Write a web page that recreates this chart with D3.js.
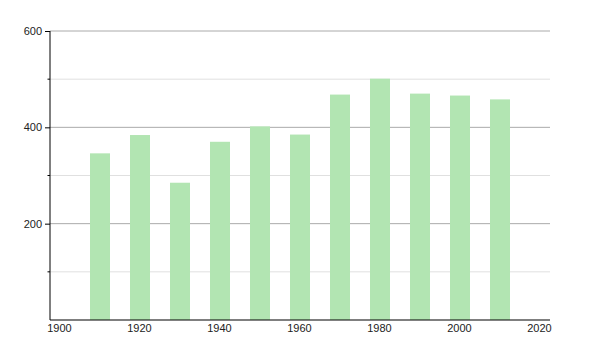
<!DOCTYPE html>
<html lang="en">
<head>
<meta charset="utf-8">
<script src="https://d3js.org/d3.v7.min.js"></script>
<style>
  body { margin: 0; background: #fff; }
  svg text { font: 11px "Liberation Sans", Arial, sans-serif; fill: #222; }
</style>
</head>
<body>
<script>
// population by census year
var years = [1910, 1920, 1930, 1940, 1950, 1960, 1970, 1980, 1990, 2000, 2010];
var values = [346, 384, 285, 370, 402, 385, 468, 501, 470, 466, 458];
var xTicks = [1900, 1920, 1940, 1960, 1980, 2000, 2020];
var yMajor = [200, 400, 600];
var yMinor = [100, 300, 500];

var width = 600, height = 350;

var svg = d3.select("body").append("svg")
  .attr("width", width)
  .attr("height", height);

var x = d3.scaleLinear().domain([1900, 2025]).range([50, 550]);
var y = d3.scaleLinear().domain([0, 600]).range([320, 31]);

// grid lines, light ones first
svg.selectAll("line.minor").data(yMinor).enter().append("line")
  .attr("x1", x(1900)).attr("x2", x(2025))
  .attr("y1", function(d) { return y(d); })
  .attr("y2", function(d) { return y(d); })
  .attr("stroke", "#e0e0e0").attr("stroke-width", 1);

svg.selectAll("line.major").data(yMajor).enter().append("line")
  .attr("x1", x(1900)).attr("x2", x(2025))
  .attr("y1", function(d) { return y(d); })
  .attr("y2", function(d) { return y(d); })
  .attr("stroke", "#aaaaaa").attr("stroke-width", 1);

// bars start at the year and span 5 years
svg.selectAll("rect").data(values).enter().append("rect")
  .attr("x", function(d, i) { return x(years[i]); })
  .attr("width", function(d, i) { return x(years[i] + 5) - x(years[i]); })
  .attr("y", function(d) { return y(d); })
  .attr("height", function(d) { return y(0) - y(d); })
  .attr("fill", "#b2e5b2");

// y axis
var yAxis = d3.axisLeft(y).tickValues(yMajor).tickSize(5).tickPadding(3);
var gy = svg.append("g").attr("transform", "translate(" + x(1900) + ",0)").call(yAxis);
gy.select(".domain").attr("stroke", "#000").attr("d", "M0," + y(600) + "V" + y(0));
gy.selectAll(".tick line").attr("stroke", "#000");
gy.selectAll("text").attr("fill", "#222").style("font-size", "11px").attr("font-family", null);

svg.selectAll("line.minortick").data(yMinor).enter().append("line")
  .attr("x1", x(1900) - 2.5).attr("x2", x(1900))
  .attr("y1", function(d) { return y(d); })
  .attr("y2", function(d) { return y(d); })
  .attr("stroke", "#000");

// x axis line
svg.append("line")
  .attr("x1", x(1900)).attr("x2", x(2025))
  .attr("y1", y(0)).attr("y2", y(0))
  .attr("stroke", "#000").attr("stroke-width", 1.2);

// x labels sit just right of their year
svg.selectAll("text.xl").data(xTicks).enter().append("text")
  .attr("x", function(d) { return x(d) + 9.5; })
  .attr("y", 332)
  .attr("text-anchor", "middle")
  .text(function(d) { return d; });
</script>
</body>
</html>
